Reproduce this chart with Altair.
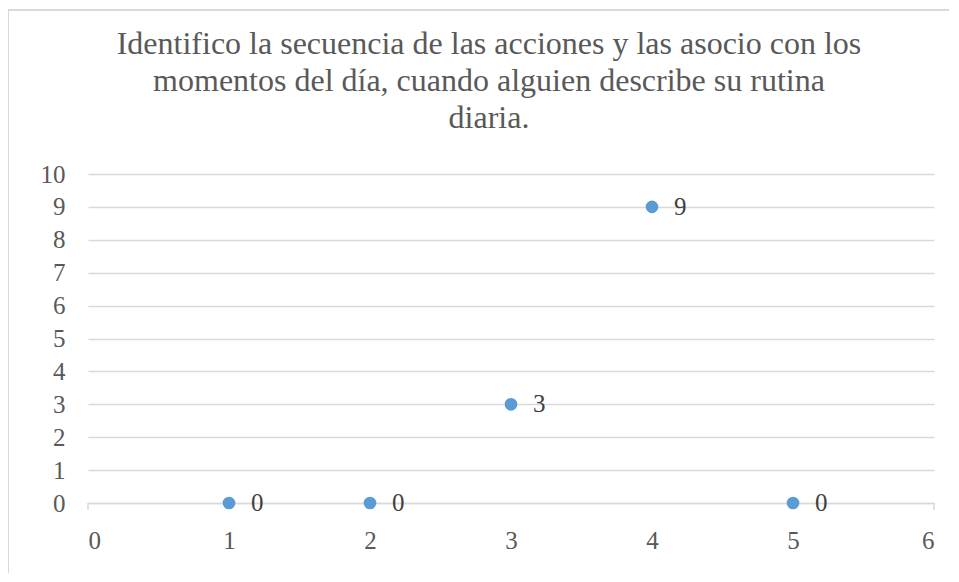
import altair as alt
import pandas as pd

# ---- data ----
x_vals = [1, 2, 3, 4, 5]
y_vals = [0, 0, 3, 9, 0]
x_tick_values = [0, 1, 2, 3, 4, 5, 6]
y_tick_values = [0, 1, 2, 3, 4, 5, 6, 7, 8, 9, 10]
edge_ticks = [0, 6]
title_lines = [
    "Identifico la  secuencia de las acciones y las asocio con los",
    "momentos del día, cuando alguien describe su rutina",
    "diaria.",
]

df = pd.DataFrame({"x": x_vals, "y": y_vals})
tick_df = pd.DataFrame({"x": edge_ticks})

W, H = 846, 329
TITLE_FONT = "Times New Roman"
AXIS_FONT = "Tinos"
LABEL_FONT = "Liberation Serif"
GRID = "#d9d9d9"
TXT = "#595959"

xscale = alt.Scale(domain=[0, 6], nice=False, zero=False)
yscale = alt.Scale(domain=[0, 10], nice=False)

base = alt.Chart(df)

border = alt.Chart(pd.DataFrame({"a": [0]})).mark_rect(
    fillOpacity=0, stroke=GRID, strokeWidth=2, clip=False
).encode(
    x=alt.value(-80), x2=alt.value(1000), y=alt.value(-164), y2=alt.value(600)
)

points = base.mark_circle(size=160, color="#5B9BD5", opacity=1).encode(
    x=alt.X(
        "x:Q",
        scale=xscale,
        axis=alt.Axis(
            values=x_tick_values,
            tickCount=7,
            format="d",
            labelOverlap=False,
            grid=False,
            domain=True,
            domainColor=GRID,
            domainWidth=1.5,
            ticks=False,
            labelFont=AXIS_FONT,
            labelFontSize=25,
            labelColor=TXT,
            labelPadding=25,
            title=None,
        ),
    ),
    y=alt.Y(
        "y:Q",
        scale=yscale,
        axis=alt.Axis(
            values=y_tick_values,
            tickCount=11,
            format="d",
            labelOverlap=False,
            grid=True,
            gridColor=GRID,
            gridWidth=1.5,
            domain=False,
            ticks=False,
            labelFont=AXIS_FONT,
            labelFontSize=25,
            labelColor=TXT,
            labelPadding=23,
            title=None,
        ),
    ),
)

labels = base.mark_text(
    align="left", baseline="middle", dx=22, font=LABEL_FONT, fontSize=25, color="#404040"
).encode(x=alt.X("x:Q", scale=xscale), y=alt.Y("y:Q", scale=yscale), text="y:Q")

edge = alt.Chart(tick_df).mark_rule(color=GRID, strokeWidth=1.5).encode(
    x=alt.X("x:Q", scale=xscale), y=alt.value(H), y2=alt.value(H + 7)
)

chart = (
    alt.layer(border, edge, points, labels)
    .properties(
        width=W,
        height=H,
        title=alt.TitleParams(
            text=title_lines,
            font=TITLE_FONT,
            fontSize=32,
            fontWeight="normal",
            color=TXT,
            anchor="middle",
            baseline="bottom",
            dx=-22,
            dy=158,
            lineHeight=37,
            offset=0,
        ),
        autosize=alt.AutoSizeParams(type="none"),
        padding={"left": 80, "top": 166, "right": 15, "bottom": 70},
    )
    .configure_view(stroke=None)
)

chart.save("out.html", embed_options={"renderer": "svg", "actions": False})
